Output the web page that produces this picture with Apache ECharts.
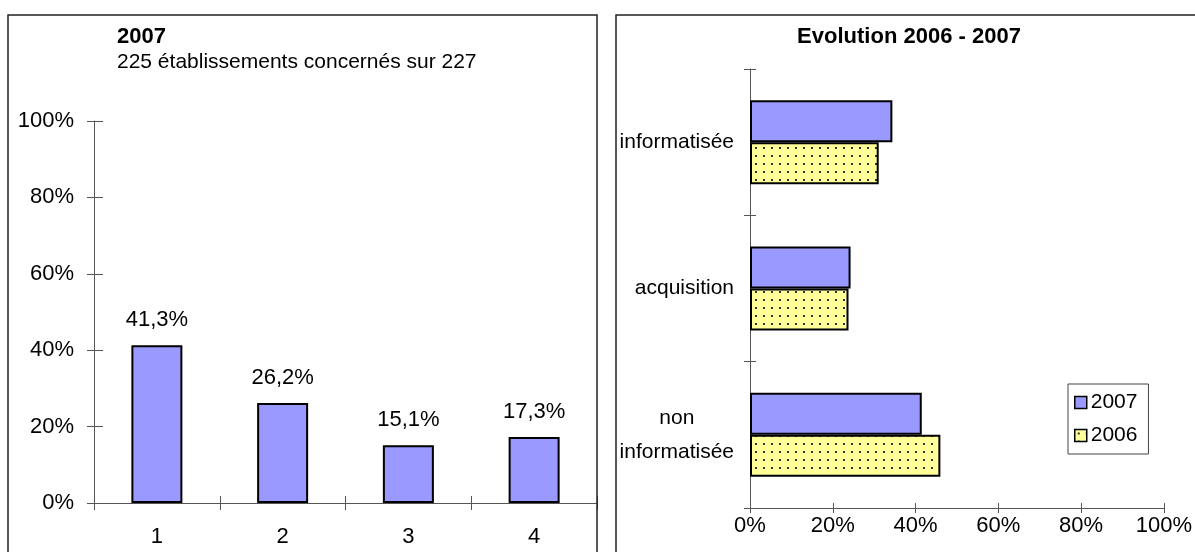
<!DOCTYPE html>
<html><head><meta charset="utf-8">
<script src="https://cdn.jsdelivr.net/npm/echarts@6/dist/echarts.min.js"></script>
<style>html,body{margin:0;padding:0;background:#fff}#c{width:1195px;height:552px}</style>
</head><body><div id="c"></div>
<script>
// ---- data ----
const leftCategories = ['1', '2', '3', '4'];
const leftValues2007 = [41.3, 26.2, 15.1, 17.3];
const rightCategories = ['non\ninformatisée', 'acquisition', 'informatisée'];
const values2007 = [41.5, 24.3, 34.4];
const values2006 = [46.0, 23.8, 31.1];
const leftTitle = '2007';
const leftSubtitle = '225 établissements concernés sur 227';
const rightTitle = 'Evolution 2006 - 2007';
const seriesNames = ['2007', '2006'];

// dotted pattern for 2006
const pc = document.createElement('canvas');
pc.width = 8; pc.height = 8;
const px = pc.getContext('2d');
px.fillStyle = '#FFFF99'; px.fillRect(0, 0, 8, 8);
px.fillStyle = '#333'; px.fillRect(3, 3, 2, 2);
const pattern = { image: pc, repeat: 'repeat' };

const FONT = 'Liberation Sans, Arial, sans-serif';
const AX = '#555';
const fmtPct = v => v + '%';

const chart = echarts.init(document.getElementById('c'), null, { renderer: 'canvas' });

function valueAxis(gridIndex, extra) {
  return Object.assign({
    type: 'value', gridIndex, min: 0, max: 100, interval: 20,
    splitLine: { show: false },
    axisLine: { show: true, lineStyle: { color: AX, width: 1 } },
    axisTick: { show: true, length: 7, lineStyle: { color: AX } },
    axisLabel: { formatter: fmtPct, color: '#000', fontSize: 22, fontFamily: FONT }
  }, extra);
}
function catAxis(gridIndex, data, extra) {
  return Object.assign({
    type: 'category', gridIndex, data,
    axisLine: { show: true, lineStyle: { color: AX, width: 1 } },
    axisTick: { show: true, length: 7, alignWithLabel: false, lineStyle: { color: AX } },
    axisLabel: { color: '#000', fontSize: 22, fontFamily: FONT }
  }, extra);
}
const innerTicks = len => ({ axisTick: { show: true, inside: true, length: len, lineStyle: { color: AX } }, axisLabel: { show: false }, axisLine: { show: false } });

const option = {
  animation: false,
  backgroundColor: '#fff',
  textStyle: { fontFamily: FONT },
  graphic: [
    { type: 'rect', shape: { x: 8, y: 15, width: 589, height: 560 }, style: { fill: 'none', stroke: '#222', lineWidth: 1.5 }, z: 100 },
    { type: 'rect', shape: { x: 616, y: 15, width: 600, height: 560 }, style: { fill: 'none', stroke: '#222', lineWidth: 1.5 }, z: 100 }
  ],
  title: [
    { text: leftTitle, left: 117, top: 26, padding: 0, textStyle: { fontSize: 22, fontWeight: 'bold', color: '#000', fontFamily: FONT } },
    { text: leftSubtitle, left: 117, top: 52, padding: 0, textStyle: { fontSize: 21, fontWeight: 'normal', color: '#000', fontFamily: FONT } },
    { text: rightTitle, left: 909, textAlign: 'center', top: 26, padding: 0, textStyle: { fontSize: 22, fontWeight: 'bold', color: '#000', fontFamily: FONT } }
  ],
  legend: {
    orient: 'vertical', left: 1068, top: 384, data: seriesNames,
    padding: [8, 11, 8, 6], itemGap: 12,
    borderColor: '#444', borderWidth: 1, backgroundColor: '#fff',
    itemWidth: 12, itemHeight: 12, icon: 'rect',
    itemStyle: { borderColor: '#000', borderWidth: 1.5 },
    textStyle: { fontSize: 21, color: '#000', fontFamily: FONT, padding: [0, 0, 0, -1] }
  },
  grid: [
    { left: 94, top: 121, width: 503, height: 382, containLabel: false },
    { left: 750, top: 69, width: 424, height: 439, containLabel: false }
  ],
  xAxis: [
    catAxis(0, leftCategories, { position: 'bottom', axisLabel: { color: '#000', fontSize: 22, fontFamily: FONT, margin: 23 } }),
    catAxis(0, leftCategories, Object.assign({ position: 'bottom' }, innerTicks(7))),
    valueAxis(1, { position: 'bottom', axisLabel: { formatter: fmtPct, color: '#000', fontSize: 22, fontFamily: FONT, margin: 7 }, axisTick: { show: true, length: 5, lineStyle: { color: AX } } }),
    valueAxis(1, Object.assign({ position: 'bottom' }, innerTicks(5)))
  ],
  yAxis: [
    valueAxis(0, { position: 'left', axisLabel: { formatter: fmtPct, color: '#000', fontSize: 22, fontFamily: FONT, margin: 20 } }),
    valueAxis(0, Object.assign({ position: 'left' }, innerTicks(9))),
    catAxis(1, rightCategories, {
      position: 'left',
      axisTick: { show: true, length: 6, lineStyle: { color: AX } },
      axisLabel: {
        color: '#000', fontSize: 21, fontFamily: FONT, margin: 16, lineHeight: 34,
        formatter: v => v.indexOf('\n') >= 0 ? v.split('\n').map(s => '{c|' + s + '}').join('\n') : v,
        rich: { c: { align: 'center', fontSize: 21, lineHeight: 34, fontFamily: FONT } }
      }
    }),
    catAxis(1, rightCategories, Object.assign({ position: 'left' }, innerTicks(6)))
  ],
  series: [
    {
      type: 'bar', name: 'left2007', xAxisIndex: 0, yAxisIndex: 0, data: leftValues2007, barWidth: 51,
      itemStyle: { color: '#9999FF', borderColor: '#000', borderWidth: 2 },
      label: { show: true, position: 'top', distance: 14, color: '#000', fontSize: 22, fontFamily: FONT,
        formatter: p => String(p.value).replace('.', ',') + '%' }
    },
    {
      type: 'bar', name: seriesNames[0], xAxisIndex: 2, yAxisIndex: 2, data: values2007, barWidth: 42, barGap: '0%',
      itemStyle: { color: '#9999FF', borderColor: '#000', borderWidth: 2 }
    },
    {
      type: 'bar', name: seriesNames[1], xAxisIndex: 2, yAxisIndex: 2, data: values2006, barWidth: 42, barGap: '0%',
      itemStyle: { color: pattern, borderColor: '#000', borderWidth: 2 }
    }
  ]
};
chart.setOption(option);
</script></body></html>
